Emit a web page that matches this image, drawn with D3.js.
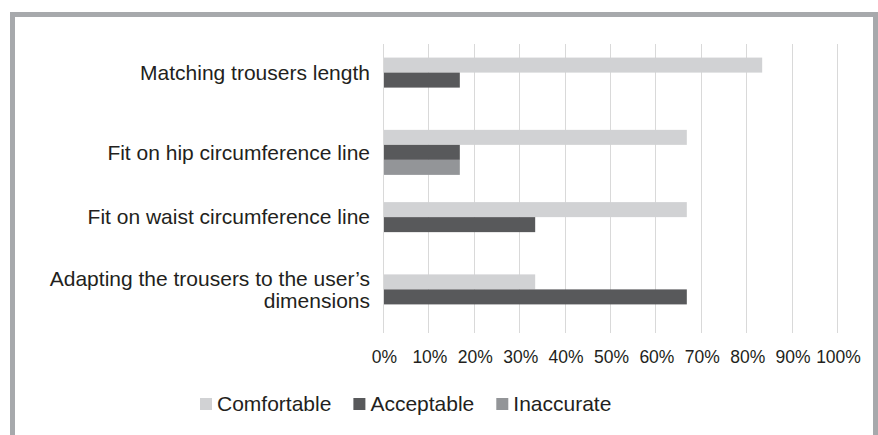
<!DOCTYPE html>
<html>
<head>
<meta charset="utf-8">
<script src="https://cdn.jsdelivr.net/npm/d3@7"></script>
<style>
  body { margin: 0; background: #fff; }
  text { font-family: "Liberation Sans", Arial, sans-serif; fill: #231f20; }
</style>
</head>
<body>
<svg id="chart" width="878" height="435"></svg>
<script>
// data
var categories = [
  "Matching trousers length",
  "Fit on hip circumference line",
  "Fit on waist circumference line",
  "Adapting the trousers to the user\u2019s dimensions"
];
var seriesNames = ["Comfortable", "Acceptable", "Inaccurate"];
var comfortable = [83.3, 66.7, 66.7, 33.3];
var acceptable  = [16.7, 16.7, 33.3, 66.7];
var inaccurate  = [0, 16.7, 0, 0];
var xTicks = [0, 10, 20, 30, 40, 50, 60, 70, 80, 90, 100];
var colors = ["#d1d2d4", "#58595b", "#939598"];

var rows = categories.map(function(c, i) {
  return {cat: c, values: [comfortable[i], acceptable[i], inaccurate[i]]};
});

var svg = d3.select("#chart");

// grey frame round the chart
svg.append("rect")
  .attr("x", 12.5).attr("y", 14.5)
  .attr("width", 863).attr("height", 440)
  .attr("fill", "none")
  .attr("stroke", "#a7a9ac")
  .attr("stroke-width", 5);

var plot = {left: 384, right: 838, top: 44, bottom: 333};

var x = d3.scaleLinear().domain([0, 100]).range([plot.left, plot.right]);
var y = d3.scaleBand().domain(categories).range([plot.top, plot.bottom])
          .paddingInner(0.377).paddingOuter(0.188);
var ySub = d3.scaleBand().domain(seriesNames).range([0, y.bandwidth()]);

// gridlines
svg.append("g")
  .selectAll("line")
  .data(xTicks)
  .enter()
  .append("line")
  .attr("x1", d => Math.round(x(d)) - 0.5)
  .attr("x2", d => Math.round(x(d)) - 0.5)
  .attr("y1", plot.top).attr("y2", plot.bottom)
  .attr("stroke", "#d9d9d9")
  .attr("stroke-width", 1);

// x axis labels
var xAxis = svg.append("g")
  .attr("transform", "translate(0," + plot.bottom + ")")
  .call(d3.axisBottom(x).tickValues(xTicks).tickFormat(d => d + "%").tickSize(0).tickPadding(18));
xAxis.select(".domain").remove();
xAxis.selectAll("text")
  .attr("font-size", "17.5px")
  .attr("font-family", "Liberation Sans, Arial, sans-serif")
  .attr("fill", "#231f20");

// bars
var groups = svg.append("g")
  .selectAll("g")
  .data(rows)
  .enter()
  .append("g")
  .attr("transform", d => "translate(0," + y(d.cat) + ")");

groups.selectAll("rect")
  .data(d => d.values.map((v, i) => ({name: seriesNames[i], value: v, i: i})))
  .enter()
  .append("rect")
  .attr("x", x(0))
  .attr("y", d => ySub(d.name))
  .attr("height", ySub.bandwidth())
  .attr("width", d => x(d.value) - x(0))
  .attr("fill", d => colors[d.i]);

// category labels, centred on the bars that are drawn
var labels = svg.append("g")
  .selectAll("text")
  .data(rows)
  .enter()
  .append("text")
  .attr("text-anchor", "end")
  .attr("font-size", "21px")
  .attr("transform", function(d) {
    var n = d.values.filter(v => v > 0).length;
    var cy = y(d.cat) + n * ySub.bandwidth() / 2;
    return "translate(370," + cy + ")";
  });

labels.each(function(d) {
  var t = d3.select(this);
  var parts = d.cat.length > 32 ? ["Adapting the trousers to the user\u2019s", "dimensions"] : [d.cat];
  parts.forEach(function(p, i) {
    t.append("tspan")
      .attr("x", 0)
      .attr("y", (i - (parts.length - 1) / 2) * 22)
      .attr("dy", "0.35em")
      .text(p);
  });
});

// legend
var legend = svg.append("g").attr("transform", "translate(200,404)");
var lx = 0;
seriesNames.forEach(function(name, i) {
  var g = legend.append("g").attr("transform", "translate(" + lx + ",0)");
  g.append("rect")
    .attr("x", 0).attr("y", -6)
    .attr("width", 12).attr("height", 12)
    .attr("fill", colors[i]);
  var t = g.append("text")
    .attr("x", 17)
    .attr("dy", "0.35em")
    .attr("font-size", "21px")
    .text(name);
  lx += 17 + t.node().getComputedTextLength() + 22;
});
</script>
</body>
</html>
